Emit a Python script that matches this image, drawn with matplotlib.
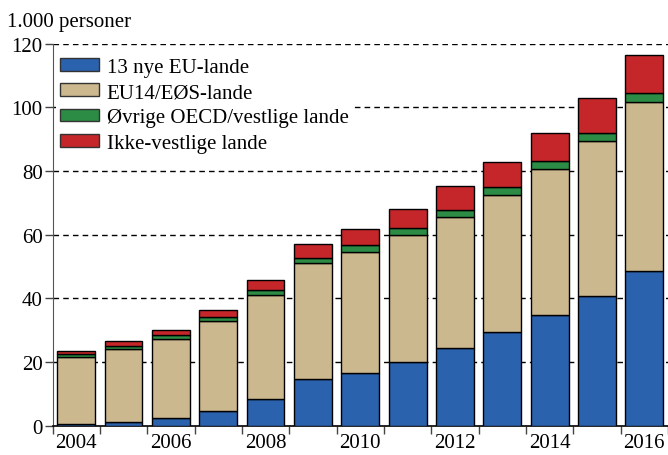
import matplotlib
matplotlib.use("Agg")
import matplotlib.pyplot as plt
import numpy as np

plt.rcParams['font.family'] = ['Liberation Serif', 'DejaVu Serif']

years = [2004, 2005, 2006, 2007, 2008, 2009, 2010, 2011, 2012, 2013, 2014, 2015, 2016]
series_names = ["13 nye EU-lande", "EU14/EØS-lande",
                "Øvrige OECD/vestlige lande", "Ikke-vestlige lande"]
nye_eu = [0.5, 1.2, 2.4, 4.8, 8.5, 14.7, 16.6, 19.9, 24.5, 29.5, 34.9, 40.9, 48.5]
eu14_eos = [21.0, 23.0, 25.0, 28.2, 32.7, 36.3, 38.1, 39.9, 41.1, 42.9, 45.6, 48.5, 53.2]
oecd_vest = [1.1, 0.8, 1.2, 1.2, 1.4, 1.7, 2.1, 2.3, 2.3, 2.7, 2.6, 2.7, 2.9]
ikke_vest = [0.8, 1.5, 1.6, 2.1, 3.1, 4.4, 5.1, 6.1, 7.4, 7.7, 9.0, 10.7, 11.7]
colors = ["#2A62AE", "#CBB88E", "#2C8C45", "#C4262A"]
y_ticks = [0, 20, 40, 60, 80, 100, 120]
x_labels = [2004, 2006, 2008, 2010, 2012, 2014, 2016]

fig = plt.figure(figsize=(6.68, 4.56), dpi=100)
ax = fig.add_axes([0.0786, 0.064, 0.9214, 0.838])

bottom = np.zeros(len(years))
for vals, name, col in zip([nye_eu, eu14_eos, oecd_vest, ikke_vest], series_names, colors):
    ax.bar(years, vals, width=0.8, bottom=bottom, color=col, edgecolor="black",
           linewidth=1.0, label=name, zorder=3)
    bottom += np.array(vals)

ax.set_xlim(2003.5, 2016.5)
ax.set_ylim(0, 120)
ax.set_yticks(y_ticks)
ax.set_yticklabels([str(v) for v in y_ticks], fontsize=15)

# boundaries between bars carry tick marks; even years carry labels
ax.set_xticks(np.arange(2003.5, 2017, 1.0))
ax.set_xticklabels([])
ax.set_xticks(x_labels, minor=True)
ax.set_xticklabels([str(y) for y in x_labels], minor=True, fontsize=15)
ax.tick_params(axis="x", which="major", direction="out", length=6, width=1, color="#444444")
ax.tick_params(axis="x", which="minor", length=0, pad=5)
ax.tick_params(axis="y", direction="out", length=6, width=1, color="#444444", pad=1)

for v in y_ticks[1:]:
    ax.axhline(v, color="black", linewidth=1.0, linestyle=(0, (4, 3)), zorder=1)

for s in ["top", "right"]:
    ax.spines[s].set_visible(False)
ax.spines["left"].set_color("#555555")
ax.spines["bottom"].set_color("black")
ax.spines["bottom"].set_linewidth(1.2)

leg = ax.legend(loc="upper left", bbox_to_anchor=(0.0, 0.982), fontsize=15, frameon=True,
                fancybox=False, edgecolor="none", facecolor="white", framealpha=1.0,
                handlelength=1.9, handleheight=0.55, handletextpad=0.35, labelspacing=0.3,
                borderpad=0.2, borderaxespad=0.15)
leg.set_zorder(5)
for h in leg.legend_handles:
    h.set_edgecolor("#333333")

fig.text(0.011, 0.951, "1.000 personer", fontsize=15, ha="left", va="center")

fig.savefig("out.png", dpi=100)
